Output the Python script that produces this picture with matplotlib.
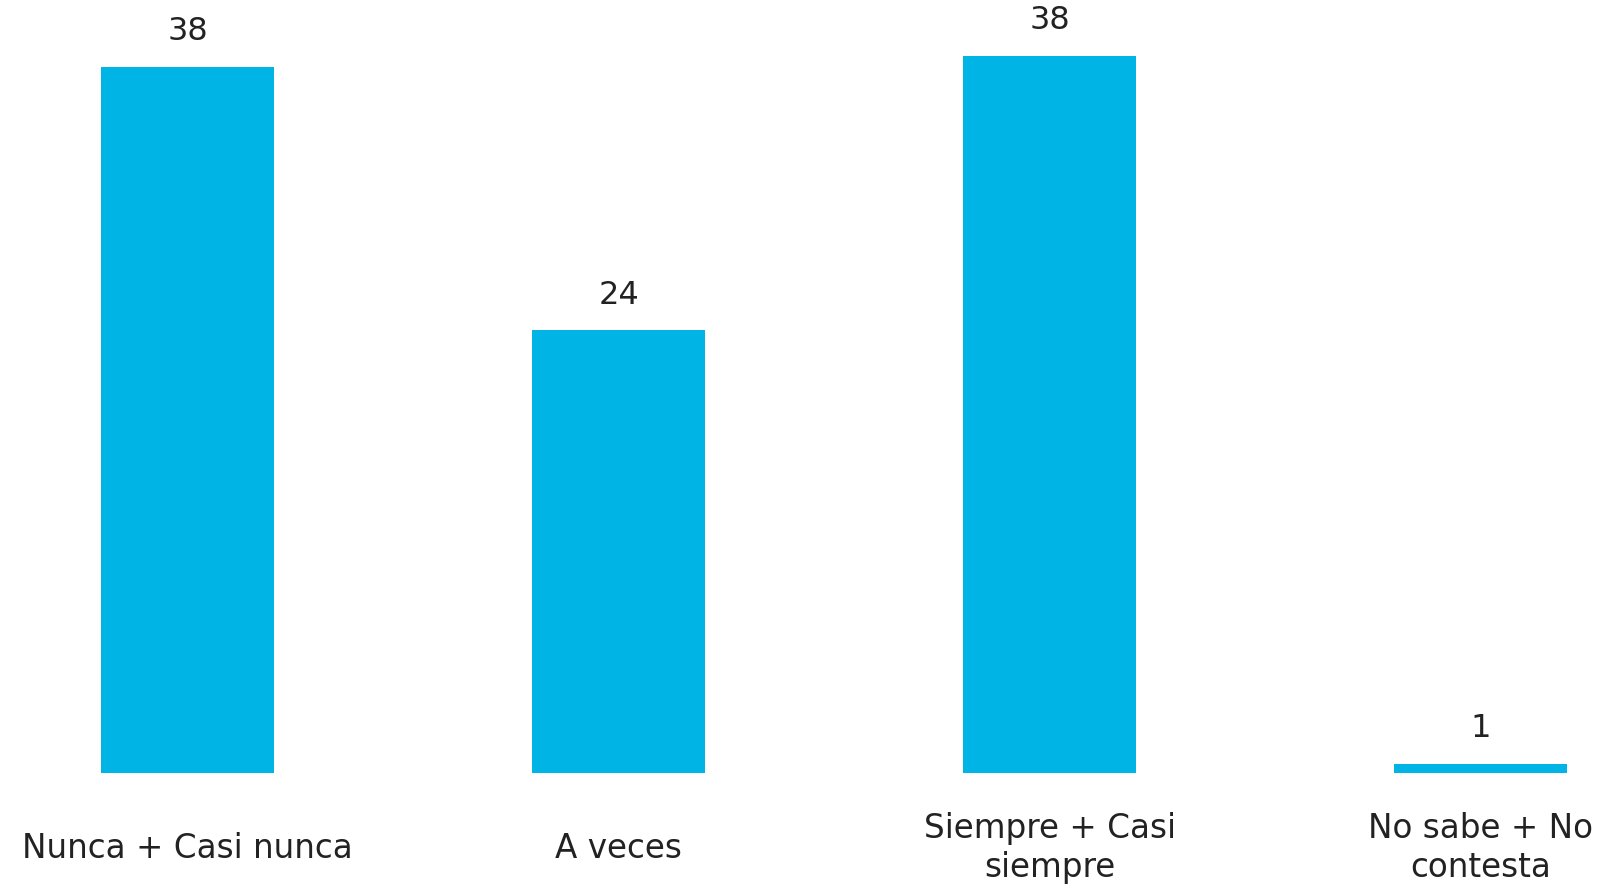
import matplotlib.pyplot as plt

categorias = ["Nunca + Casi nunca", "A veces", "Siempre + Casi\nsiempre", "No sabe + No\ncontesta"]
valores = [37.8, 23.7, 38.4, 0.5]
etiquetas = ["38", "24", "38", "1"]

color_barra = "#00B5E6"
color_texto = "#222222"

plt.rcParams["font.family"] = ["DejaVu Sans"]

fig = plt.figure(figsize=(16.19, 8.85), dpi=100)
ax = fig.add_axes([0, 112 / 885, 1, 773 / 885])

pos = list(range(len(categorias)))
ax.bar(pos, valores, width=0.4, color=color_barra)

# etiquetas de valor sobre cada barra
for x, v, t in zip(pos, valores, etiquetas):
    ax.annotate(t, (x, v), xytext=(0, 25.5), textcoords="offset points",
                ha="center", va="center", fontsize=23, color=color_texto)

# etiquetas de categoria bajo el eje
for x, c in zip(pos, categorias):
    ax.annotate(c, (x, 0), xytext=(0, -54), textcoords="offset points",
                ha="center", va="center", fontsize=23.5, color=color_texto,
                multialignment="center", linespacing=1.2, annotation_clip=False)

ax.set_xlim(-0.435, 3.321)
ax.set_ylim(0, 41.4)
ax.axis("off")

plt.savefig("out.png", dpi=100)
